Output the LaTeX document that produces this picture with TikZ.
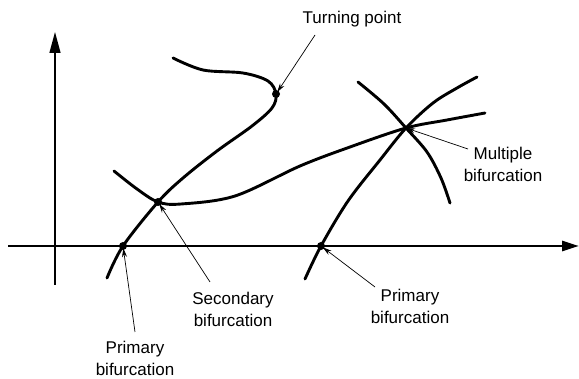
\documentclass[tikz,border=0pt]{standalone}
\usepackage{fontspec}
\newfontfamily\labfont{Liberation Sans}
\usetikzlibrary{arrows.meta}
\tikzset{
  curve/.style={line width=2.9pt, line cap=round},
  axis/.style={line width=2.8pt, -{Triangle[length=17pt,width=10pt]}},
  vaxis/.style={line width=1.4pt, -{Triangle[length=21pt,width=11pt]}},
  pt/.style={circle, fill=black, inner sep=0pt, minimum size=8pt},
  lab/.style={font=\labfont\fontsize{17}{22}\selectfont, align=center, inner sep=0pt},
  pointer/.style={line width=0.7pt, -{Stealth[length=9pt,width=5pt]}, shorten >=-2pt}
}
\begin{document}
\begin{tikzpicture}[x=1pt,y=-1pt]
\useasboundingbox (0,0) rectangle (579,379);
% dots
\node[pt] (tp) at (276,94) {};
\node[pt] (sb) at (158,202) {};
\node[pt] (pb1) at (123,246) {};
\node[pt] (pb2) at (321,246) {};
\node[pt, minimum size=4pt] (mb) at (406,128) {};
% axes
\coordinate (vs) at (55,285);
\coordinate (ve) at (55,32);
\coordinate (hs) at (8,246);
\coordinate (he) at (579,246);
\draw[vaxis] (vs) -- (ve);
\draw[axis] (hs) -- (he);
% curves
\draw[curve] plot[smooth, tension=0.55] coordinates {(173,58) (203,70) (243,73) (268,81) (276,94) (272,108) (252,126) (217,151) (183,178) (158,202) (123,246) (107,278)};
\draw[curve] plot[smooth, tension=0.55] coordinates {(114,171) (137,189) (158,202) (181,204) (235,196) (300,166) (350,147) (406,128) (447,120) (485,113)};
\draw[curve] plot[smooth, tension=0.55] coordinates {(358,82) (384,104) (406,128) (427,152) (441,178) (450,203)};
\draw[curve] plot[smooth, tension=0.55] coordinates {(305,279) (321,246) (348,201) (380,160) (406,128) (433,103) (457,88) (477,77)};
% labels
\node[lab] (tpl) at (352,19) {Turning point};
\node[lab] (mbl) at (503,164) {Multiple\\bifurcation};
\node[lab] (sbl) at (233,309) {Secondary\\bifurcation};
\node[lab] (pb1l) at (135,358) {Primary\\bifurcation};
\node[lab] (pb2l) at (410,306) {Primary\\bifurcation};
% pointer starts
\coordinate (tps) at (315,35);
\coordinate (mbs) at (468,149);
\coordinate (sbs) at (210,282);
\coordinate (pb1s) at (135,332);
\coordinate (pb2s) at (375,287);
\draw[pointer] (tps) -- (tp);
\draw[pointer] (mbs) -- (mb);
\draw[pointer] (sbs) -- (sb);
\draw[pointer] (pb1s) -- (pb1);
\draw[pointer] (pb2s) -- (pb2);
\end{tikzpicture}
\end{document}
